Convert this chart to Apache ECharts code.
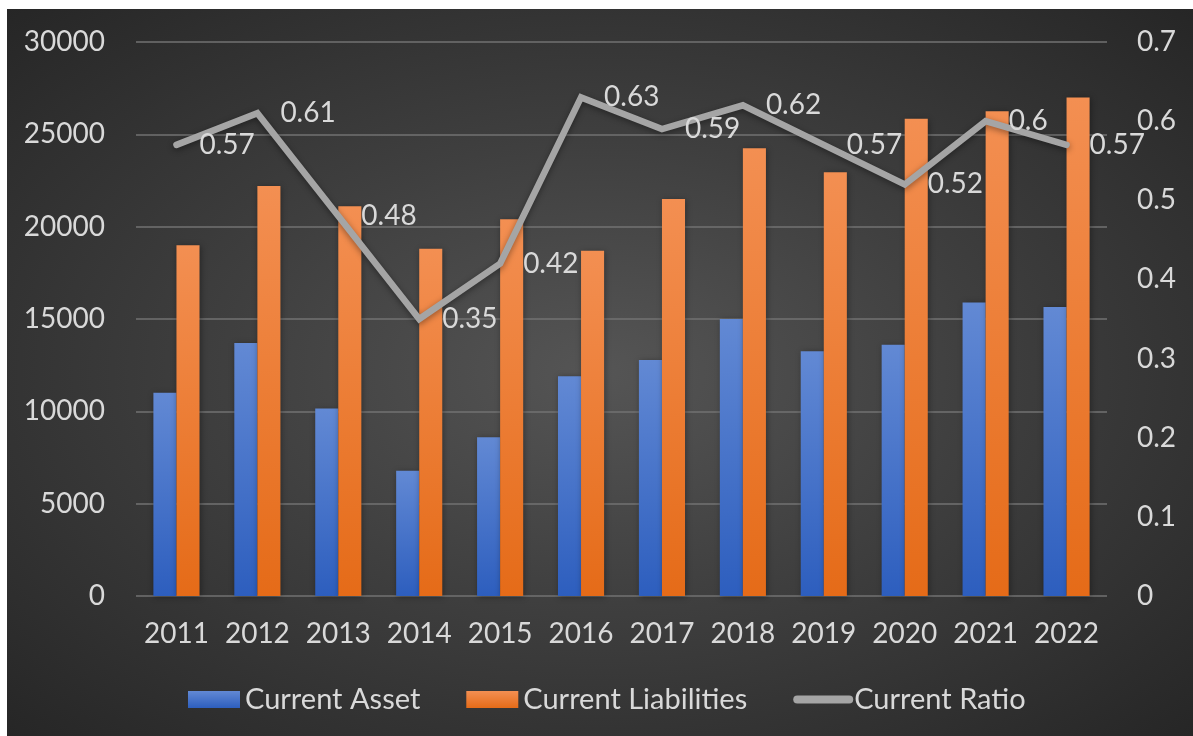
<!DOCTYPE html>
<html>
<head>
<meta charset="utf-8">
<script src="https://cdn.jsdelivr.net/npm/echarts@6/dist/echarts.min.js"></script>
<style>
    html, body { margin: 0; padding: 0; background: #ffffff; }
    #chart {
        position: absolute;
        left: 7px;
        top: 9px;
        width: 1186px;
        height: 727px;
        background: radial-gradient(ellipse at 50% 50%, #555555 0%, #3f3f3f 45%, #262626 100%);
    }
</style>
</head>
<body>
<div id="chart"></div>
<script>
const years = ["2011", "2012", "2013", "2014", "2015", "2016", "2017", "2018", "2019", "2020", "2021", "2022"];
const currentAsset = [11000, 13700, 10150, 6780, 8600, 11900, 12780, 15000, 13250, 13600, 15900, 15650];
const currentLiabilities = [19000, 22200, 21100, 18800, 20400, 18700, 21500, 24250, 22950, 25850, 26250, 27000];
const currentRatio = [0.57, 0.61, 0.48, 0.35, 0.42, 0.63, 0.59, 0.62, 0.57, 0.52, 0.6, 0.57];

const fontFamily = "Lato, 'Open Sans', sans-serif";
const textColor = "#d9d9d9";
const lineColor = "#a5a5a5";

const chart = echarts.init(document.getElementById("chart"));

const barGradient = (top, bottom) =>
    new echarts.graphic.LinearGradient(0, 0, 0, 1, [
        { offset: 0, color: top },
        { offset: 1, color: bottom },
    ]);

const option = {
    backgroundColor: "transparent",
    textStyle: { fontFamily },
    grid: {
        left: 129,
        right: 86,
        top: 33,
        bottom: 140,
    },
    legend: {
        left: 176,
        top: 671,
        itemWidth: 52,
        itemHeight: 17,
        itemGap: 46,
        textStyle: { color: textColor, fontSize: 29, fontFamily },
        data: [
            { name: "Current Asset", icon: "rect" },
            { name: "Current Liabilities", icon: "rect" },
            {
                name: "Current Ratio",
                itemStyle: { opacity: 0 },
                lineStyle: { width: 8, cap: "round", color: lineColor, shadowBlur: 0 },
            },
        ],
    },
    xAxis: {
        type: "category",
        data: years,
        axisLine: { show: false },
        axisTick: { show: false },
        axisLabel: { color: textColor, fontSize: 28, margin: 24, interval: 0 },
    },
    yAxis: [
        {
            type: "value",
            min: 0,
            max: 30000,
            interval: 5000,
            axisLine: { show: false },
            axisTick: { show: false },
            axisLabel: { color: textColor, fontSize: 28, margin: 31, formatter: (v) => String(v) },
            splitLine: { lineStyle: { color: "#727272", width: 1.5 } },
        },
        {
            type: "value",
            min: 0,
            max: 0.7,
            interval: 0.1,
            axisLine: { show: false },
            axisTick: { show: false },
            axisLabel: { color: textColor, fontSize: 28, margin: 30 },
            splitLine: { show: false },
        },
    ],
    series: [
        {
            name: "Current Asset",
            type: "bar",
            data: currentAsset,
            barGap: "0%",
            barCategoryGap: "43%",
            itemStyle: {
                color: barGradient("#6289d4", "#2d5ebe"),
                shadowColor: "rgba(0,0,0,0.35)",
                shadowBlur: 6,
                shadowOffsetX: 1,
                shadowOffsetY: 1,
            },
        },
        {
            name: "Current Liabilities",
            type: "bar",
            data: currentLiabilities,
            itemStyle: {
                color: barGradient("#f38f52", "#e56b18"),
                shadowColor: "rgba(0,0,0,0.35)",
                shadowBlur: 6,
                shadowOffsetX: 1,
                shadowOffsetY: 1,
            },
        },
        {
            name: "Current Ratio",
            type: "line",
            yAxisIndex: 1,
            data: currentRatio,
            symbol: "circle",
            symbolSize: 2,
            showSymbol: true,
            lineStyle: {
                color: lineColor,
                width: 6.5,
                cap: "round",
                join: "miter",
                shadowColor: "rgba(0,0,0,0.4)",
                shadowBlur: 6,
                shadowOffsetY: 2,
            },
            itemStyle: { color: lineColor },
            label: {
                show: true,
                position: "right",
                distance: 22,
                color: textColor,
                fontSize: 28,
                fontFamily,
            },
            z: 5,
        },
    ],
};

chart.setOption(option);
</script>
</body>
</html>
